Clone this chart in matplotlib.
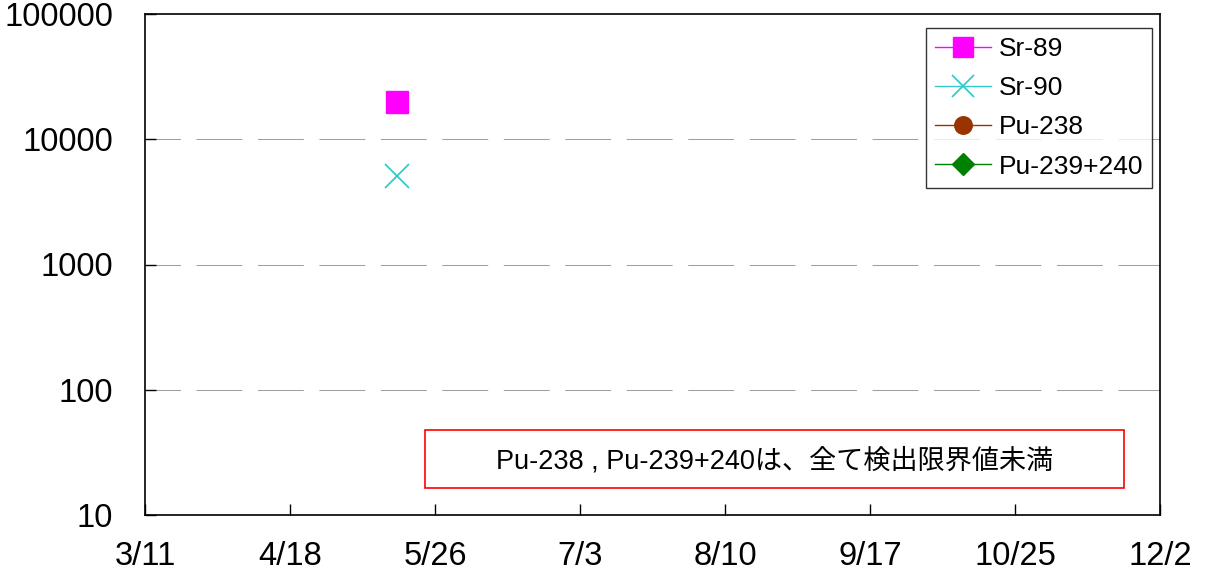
import datetime
import matplotlib
matplotlib.use("Agg")
import matplotlib.pyplot as plt
from matplotlib.patches import Rectangle

plt.rcParams['font.family'] = ['Liberation Sans', 'Noto Sans CJK JP', 'DejaVu Sans']

# data (Bq/kg) - only one sampling date has detections
sr89_dates = [datetime.date(2011, 5, 16)]
sr89_vals = [20000]
sr90_dates = [datetime.date(2011, 5, 16)]
sr90_vals = [5100]
pu238_dates = []
pu238_vals = []
pu239_dates = []
pu239_vals = []

tick_dates = [datetime.date(2011, 3, 11) + datetime.timedelta(days=38 * i) for i in range(8)]
tick_labels = ['3/11', '4/18', '5/26', '7/3', '8/10', '9/17', '10/25', '12/2']
note = 'Pu-238 , Pu-239+240は、全て検出限界値未満'

fig = plt.figure(figsize=(12.08, 5.85), dpi=100)
ax = fig.add_axes([145 / 1208, 70 / 585, 1015 / 1208, 501 / 585])

ax.plot(sr89_dates, sr89_vals, color='#ff00ff', marker='s', markersize=16, lw=1, label='Sr-89')
ax.plot(sr90_dates, sr90_vals, color='#33cccc', marker='x', markersize=17, mew=1.3, lw=1, label='Sr-90')
ax.plot(pu238_dates, pu238_vals, color='#993300', marker='o', markersize=14, lw=1, label='Pu-238')
ax.plot(pu239_dates, pu239_vals, color='#008000', marker='D', markersize=12, lw=1, label='Pu-239+240')

ax.set_yscale('log')
ax.set_ylim(10, 100000)
ax.set_xlim(tick_dates[0], tick_dates[-1])
ax.set_xticks(tick_dates)
ax.set_xticklabels(tick_labels)
ax.set_yticks([10, 100, 1000, 10000, 100000])
ax.set_yticklabels(['10', '100', '1000', '10000', '100000'])
ax.yaxis.set_minor_locator(matplotlib.ticker.NullLocator())
ax.tick_params(axis='both', direction='in', length=8, width=1, labelsize=23.5)
ax.tick_params(axis='x', pad=19)
ax.tick_params(axis='y', pad=23)

for v in [100, 1000, 10000]:
    ax.axhline(v, color='#a0a0a0', lw=0.75, linestyle=(10, (44, 15)), zorder=0)

for s in ax.spines.values():
    s.set_linewidth(1.2)

leg = ax.legend(loc='upper right', bbox_to_anchor=(0.9925, 0.973), fontsize=19, frameon=True,
                fancybox=False, edgecolor='black', handlelength=2.1, borderpad=0.35,
                labelspacing=0.58, handletextpad=0.3, borderaxespad=0, markerscale=0.9)
leg.get_frame().set_linewidth(1)

ax.add_patch(Rectangle((280 / 1015, 27 / 501), 699 / 1015, 58 / 501, transform=ax.transAxes,
                       fill=False, edgecolor='red', lw=1.2))
ax.text(630 / 1015, 54 / 501, note, transform=ax.transAxes, ha='center', va='center', fontsize=19.5)

fig.savefig('out.png', dpi=100)
